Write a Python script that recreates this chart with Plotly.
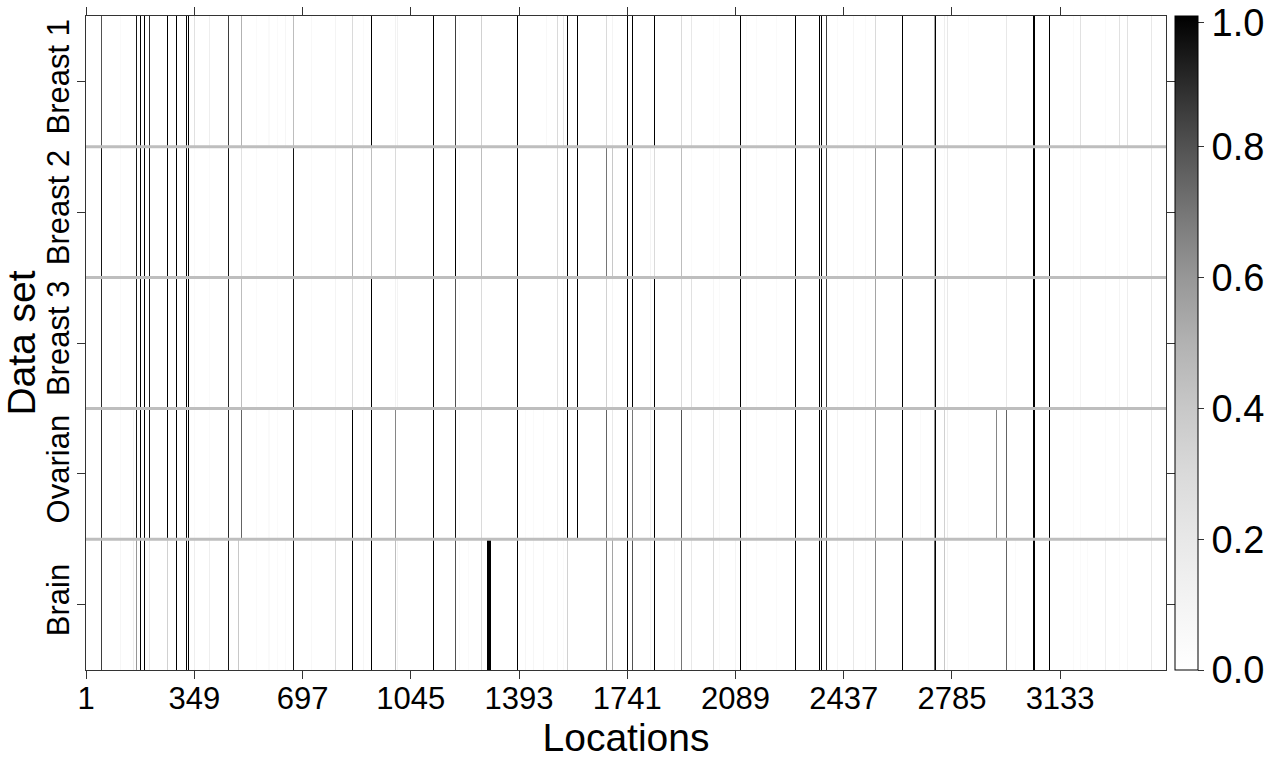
import plotly.graph_objects as go

# ---------------- data ----------------
DATASETS = ["Brain", "Ovarian", "Breast 3", "Breast 2", "Breast 1"]  # bottom -> top
N_LOCATIONS = 3473
X_TICKS = [1, 349, 697, 1045, 1393, 1741, 2089, 2437, 2785, 3133]
CB_TICKS = [0.0, 0.2, 0.4, 0.6, 0.8, 1.0]

LOCATIONS = [49, 111, 154, 164, 177, 190, 206, 264, 290, 325, 331, 349, 399, 460, 492,
             501, 548, 589, 617, 643, 669, 725, 804, 859, 892, 920, 995, 1002, 1119,
             1188, 1200, 1232, 1271,
             1292, 1293, 1294, 1295, 1296, 1297, 1298, 1299, 1300, 1301,
             1387, 1413, 1440, 1472, 1481, 1518, 1535, 1550, 1582, 1673, 1694,
             1743, 1759, 1815, 1829, 1894, 1916, 1948, 2017, 2038, 2088, 2104, 2123,
             2157, 2220, 2282, 2358, 2366, 2382, 2418, 2467, 2508, 2540, 2627, 2685,
             2728, 2733, 2762, 2772, 2837, 2929, 2961, 2991,
             3045, 3046, 3047, 3048, 3049, 3050, 3051, 3052,
             3100, 3177, 3200, 3221, 3280, 3324, 3350, 3427]

BREAST_1 = [0.80, 0.05, 0.00, 0.95, 1.00, 1.00, 0.90, 1.00, 1.00, 1.00, 1.00, 0.25, 0.15, 0.85, 0.00,
            0.50, 0.05, 0.05, 0.05, 0.08, 0.45, 0.06, 0.10, 0.30, 0.05, 1.00, 0.12, 0.12, 1.00,
            0.85, 0.05, 0.00, 0.35,
            0, 0, 0, 0, 0, 0, 0, 0, 0, 0,
            1.00, 0.00, 0.00, 0.00, 0.06, 0.30, 0.20, 1.00, 1.00, 0.30, 0.10,
            1.00, 1.00, 0.00, 1.00, 0.00, 0.30, 0.20, 0.03, 0.05, 0.00, 1.00, 0.05,
            0.05, 0.05, 1.00, 1.00, 1.00, 0.85, 0.05, 0.08, 0.05, 0.30, 1.00, 0.00,
            0.55, 1.00, 0.15, 0.20, 0.05, 0.00, 0.20, 0.00,
            1, 1, 1, 1, 1, 1, 1, 1,
            1.00, 0.05, 0.25, 0.00, 0.05, 0.25, 0.25, 0.20]

BREAST_2 = [0.95, 0.05, 0.00, 0.95, 1.00, 1.00, 0.95, 1.00, 1.00, 1.00, 1.00, 0.05, 0.05, 0.95, 0.00,
            0.25, 0.05, 0.00, 0.05, 0.00, 0.95, 0.05, 0.10, 0.50, 0.05, 0.45, 0.30, 0.00, 1.00,
            1.00, 0.05, 0.00, 0.45,
            0, 0, 0, 0, 0, 0, 0, 0, 0, 0,
            1.00, 0.00, 0.00, 0.00, 0.00, 0.30, 0.05, 1.00, 1.00, 0.70, 0.40,
            1.00, 1.00, 0.10, 0.30, 0.00, 0.45, 0.05, 0.05, 0.05, 0.00, 1.00, 0.05,
            0.05, 0.05, 1.00, 1.00, 1.00, 0.85, 0.05, 0.08, 0.05, 0.60, 1.00, 0.00,
            0.45, 1.00, 0.05, 0.20, 0.05, 0.00, 0.20, 0.00,
            1, 1, 1, 1, 1, 1, 1, 1,
            1.00, 0.05, 0.08, 0.00, 0.05, 0.05, 0.10, 0.20]

BREAST_3 = [0.90, 0.05, 0.00, 0.95, 1.00, 1.00, 0.95, 1.00, 1.00, 1.00, 1.00, 0.05, 0.05, 0.90, 0.00,
            0.45, 0.05, 0.00, 0.05, 0.00, 0.95, 0.05, 0.10, 0.30, 0.04, 1.00, 0.12, 0.10, 1.00,
            0.80, 0.05, 0.00, 0.30,
            0, 0, 0, 0, 0, 0, 0, 0, 0, 0,
            1.00, 0.00, 0.00, 0.00, 0.00, 0.25, 0.05, 1.00, 1.00, 0.35, 0.10,
            1.00, 1.00, 0.10, 1.00, 0.00, 0.30, 0.25, 0.08, 0.05, 0.00, 1.00, 0.05,
            0.05, 0.05, 1.00, 1.00, 1.00, 0.85, 0.05, 0.08, 0.05, 0.55, 1.00, 0.00,
            0.50, 1.00, 0.15, 0.20, 0.05, 0.00, 0.20, 0.00,
            1, 1, 1, 1, 1, 1, 1, 1,
            1.00, 0.05, 0.10, 0.00, 0.05, 0.10, 0.15, 0.20]

OVARIAN = [0.90, 0.05, 0.08, 0.95, 1.00, 1.00, 0.95, 1.00, 1.00, 1.00, 1.00, 0.05, 0.05, 0.90, 0.00,
           0.75, 0.05, 0.05, 0.05, 0.00, 0.95, 0.05, 0.10, 1.00, 0.05, 1.00, 0.65, 0.00, 1.00,
           0.95, 0.05, 0.00, 0.30,
           0, 0, 0, 0, 0, 0, 0, 0, 0, 0,
           1.00, 0.05, 0.05, 0.05, 0.00, 0.15, 0.05, 1.00, 1.00, 0.75, 0.20,
           1.00, 0.70, 0.15, 1.00, 0.00, 0.80, 0.10, 0.25, 0.05, 0.00, 1.00, 0.05,
           0.05, 0.05, 1.00, 1.00, 1.00, 0.85, 0.12, 0.05, 0.05, 0.60, 1.00, 0.05,
           0.60, 1.00, 0.35, 0.15, 0.05, 0.65, 0.75, 0.00,
           1, 1, 1, 1, 1, 1, 1, 1,
           1.00, 0.05, 0.05, 0.00, 0.05, 0.10, 0.12, 0.20]

BRAIN = [0.85, 0.08, 0.15, 0.60, 1.00, 1.00, 0.20, 0.35, 1.00, 1.00, 1.00, 0.15, 0.15, 0.95, 0.40,
         0.00, 0.05, 0.05, 0.05, 0.05, 0.95, 0.06, 0.30, 1.00, 0.08, 1.00, 0.45, 0.10, 1.00,
         0.80, 0.05, 0.05, 0.30,
         1, 1, 1, 1, 1, 1, 1, 1, 1, 1,
         1.00, 0.08, 0.08, 0.08, 0.00, 0.10, 0.05, 0.35, 0.00, 0.70, 0.55,
         1.00, 0.80, 0.10, 1.00, 0.10, 0.70, 0.20, 0.30, 0.05, 0.10, 1.00, 0.05,
         0.05, 0.05, 1.00, 1.00, 1.00, 0.90, 0.10, 0.20, 0.05, 0.65, 1.00, 0.00,
         0.75, 1.00, 0.40, 0.10, 0.05, 0.00, 0.75, 0.05,
         1, 1, 1, 1, 1, 1, 1, 1,
         1.00, 0.05, 0.05, 0.05, 0.15, 0.05, 0.08, 0.20]

ROWS = [BRAIN, OVARIAN, BREAST_3, BREAST_2, BREAST_1]

# ---------------- styling constants ----------------
FONT = "Liberation Sans, Arial, Helvetica, sans-serif"
MIN_CELL_W = 3.3  # minimum drawn cell width (in location units) so 1-location marks stay visible
TOP_LABEL_NUDGE = 0.01  # keeps the top colorbar label inside the page, as in the reference
GRAY_SCALE = [[0.0, "#ffffff"], [0.1, "#f4f4f4"], [0.2, "#e8e8e8"], [0.3, "#dadada"],
              [0.4, "#c8c8c8"], [0.5, "#b2b2b2"], [0.6, "#979797"], [0.7, "#767676"],
              [0.8, "#525252"], [0.9, "#2a2a2a"], [1.0, "#000000"]]

# ---------------- build heatmap bricks (edges + columns) ----------------
runs = []
for i, loc in enumerate(LOCATIONS):
    if runs and loc == LOCATIONS[runs[-1][-1]] + 1:
        runs[-1].append(i)
    else:
        runs.append([i])

edges = [0.5]
cols = []
for run in runs:
    a, b = LOCATIONS[run[0]], LOCATIONS[run[-1]]
    left, right = a - 0.5, b + 0.5
    if right - left < MIN_CELL_W:
        c = (a + b) / 2.0
        left, right = c - MIN_CELL_W / 2.0, c + MIN_CELL_W / 2.0
    if left > edges[-1]:
        cols.append([0.0] * len(ROWS))
        edges.append(left)
    step = (right - left) / len(run)
    for k, idx in enumerate(run):
        cols.append([row[idx] for row in ROWS])
        edges.append(left + step * (k + 1))
if edges[-1] < N_LOCATIONS + 0.5:
    cols.append([0.0] * len(ROWS))
    edges.append(N_LOCATIONS + 0.5)

z = [[col[r] for col in cols] for r in range(len(ROWS))]

cb_tickvals = [v - TOP_LABEL_NUDGE if v == CB_TICKS[-1] else v for v in CB_TICKS]
cb_ticktext = ["%.1f" % v for v in CB_TICKS]

fig = go.Figure()
fig.add_trace(go.Heatmap(
    x=edges, y=list(range(len(DATASETS))), z=z,
    zmin=0, zmax=1, colorscale=GRAY_SCALE, zsmooth=False,
    hoverinfo="skip",
    colorbar=dict(
        x=1.0083, xanchor="left", xpad=0, ypad=0, y=0.5, yanchor="middle",
        len=1, lenmode="fraction", thickness=23,
        outlinewidth=1, outlinecolor="#000000",
        ticks="outside", ticklen=6, tickcolor="#333333",
        tickvals=cb_tickvals, ticktext=cb_ticktext,
        ticklabeloverflow="allow",
        tickfont=dict(size=38, family=FONT, color="#000000"),
    ),
))

for k in range(len(DATASETS) - 1):
    fig.add_shape(type="line", xref="paper", x0=0, x1=1, yref="y", y0=k + 0.5, y1=k + 0.5,
                  line=dict(color="#bebebe", width=3), layer="above")

fig.update_layout(
    width=1270, height=764,
    margin=dict(l=86, r=104, t=16, b=94, autoexpand=False),
    paper_bgcolor="white", plot_bgcolor="white",
    font=dict(family=FONT, color="#000000"),
    showlegend=False,
    xaxis=dict(
        range=[0.5, N_LOCATIONS + 0.5], tickvals=X_TICKS, ticktext=[str(t) for t in X_TICKS],
        ticks="outside", ticklen=8, tickcolor="#333333", tickwidth=1,
        showline=True, linecolor="#333333", linewidth=1, mirror="ticks",
        showgrid=False, zeroline=False, automargin=False,
        tickfont=dict(size=31, family=FONT), ticklabelstandoff=-7,
        title=dict(text="Locations", font=dict(size=39, family=FONT), standoff=6),
    ),
    yaxis=dict(
        range=[-0.5, len(DATASETS) - 0.5], tickvals=list(range(len(DATASETS))), ticktext=DATASETS,
        tickangle=-90,
        ticks="outside", ticklen=8, tickcolor="#333333", tickwidth=1,
        showline=True, linecolor="#333333", linewidth=1, mirror="ticks",
        showgrid=False, zeroline=False, automargin=False,
        tickfont=dict(size=31, family=FONT), ticklabelstandoff=-4,
        title=dict(text="Data set", font=dict(size=39, family=FONT), standoff=22),
    ),
)

# remove the page's default body margin so the figure sits at the window's top-left corner
fig.write_html("out.html", config={"displayModeBar": False},
               post_script="document.body.style.margin='0px';")
